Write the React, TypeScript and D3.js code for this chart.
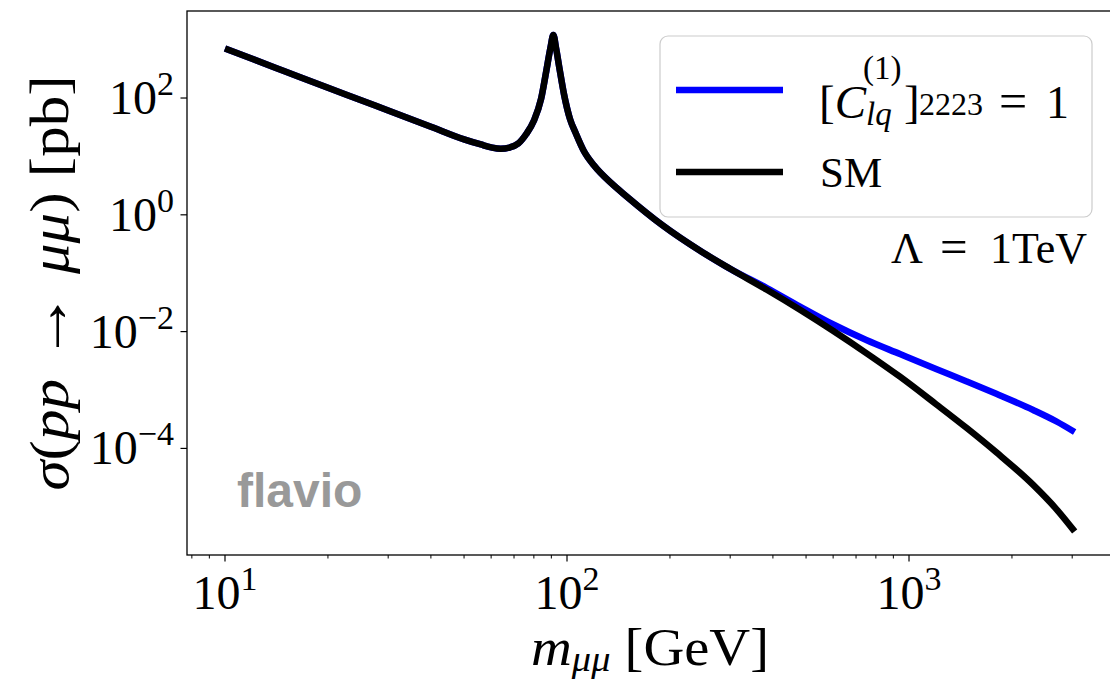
import React from "react";
import * as d3 from "d3";

// Dimuon invariant mass (GeV) at which the cross sections are sampled
const massGeV = [
  10, 12, 15, 20, 25, 30, 40, 50, 56, 60, 64, 68, 72, 76, 80, 84, 87, 89.5, 91.2,
  93, 95, 98, 102, 106, 112, 120, 135, 150, 190, 245, 300, 384, 480, 601, 750,
  941, 1200, 1475, 1800, 2307, 2700, 3050,
];

// Standard Model sigma(pp -> mu mu) in pb
const sigmaSM = [
  705, 469, 285, 150, 91.6, 61.1, 32.3, 19.6, 16.0, 14.3, 13.5, 14.2, 16.6, 24.2,
  40.8, 96.9, 292, 735, 1200, 690, 327, 116, 44, 25.2, 12.4, 6.98, 3.44, 2.02,
  0.664, 0.242, 0.119, 0.0521, 0.0237, 0.01023, 4.29e-3, 1.69e-3, 5.71e-4,
  2.23e-4, 8.57e-5, 2.37e-5, 9.06e-6, 3.79e-6,
];

// With [C_lq^(1)]_2223 = 1 at Lambda = 1 TeV
const sigmaNP = [
  705, 469, 285, 150, 91.6, 61.1, 32.3, 19.6, 16.0, 14.3, 13.5, 14.2, 16.6, 24.2,
  40.8, 96.9, 292, 735, 1200, 690, 327, 116, 44, 25.2, 12.4, 6.98, 3.44, 2.02,
  0.664, 0.242, 0.119, 0.0558, 0.0269, 0.01324, 7.18e-3, 4.13e-3, 2.29e-3,
  1.4e-3, 8.61e-4, 4.55e-4, 2.89e-4, 1.91e-4,
];

const xMajorTicks = [10, 100, 1000];
const xMinorTicks = [
  8, 9, 20, 30, 40, 50, 60, 70, 80, 90, 200, 300, 400, 500, 600, 700, 800, 900,
  2000, 3000,
];
const yMajorExponents = [-4, -2, 0, 2];

const W = 1110;
const H = 680;
const plot = { left: 187, top: 11, right: 1115, bottom: 555 };

const SERIF = "'Liberation Serif', 'Times New Roman', serif";

export default function App() {
  const x = d3
    .scaleLog()
    .domain([Math.pow(10, 0.8889), Math.pow(10, 3.6023)])
    .range([plot.left, plot.right]);
  const y = d3
    .scaleLog()
    .domain([Math.pow(10, -5.825), Math.pow(10, 3.49)])
    .range([plot.bottom, plot.top]);

  const line = (vals: number[]) =>
    d3
      .line<number>()
      .x((_, i) => x(massGeV[i]))
      .y((v) => y(v))
      .curve(d3.curveMonotoneX)(vals) || "";

  const supText = (e: number) => (e < 0 ? "\u2212" + Math.abs(e) : String(e));

  return (
    <svg
      width={W}
      height={H}
      style={{ position: "absolute", left: 0, top: 0, background: "#fff" }}
      fontFamily={SERIF}
    >
      <defs>
        <clipPath id="plotClip">
          <rect
            x={plot.left}
            y={plot.top}
            width={plot.right - plot.left}
            height={plot.bottom - plot.top}
          />
        </clipPath>
      </defs>

      {/* cross-section curves */}
      <g clipPath="url(#plotClip)" fill="none" strokeLinejoin="round">
        <path d={line(sigmaNP)} stroke="#0000ff" strokeWidth={6.5} />
        <path d={line(sigmaSM)} stroke="#000" strokeWidth={6.5} />
      </g>

      {/* frame */}
      <rect
        x={plot.left}
        y={plot.top}
        width={plot.right - plot.left}
        height={plot.bottom - plot.top}
        fill="none"
        stroke="#000"
        strokeWidth={1.3}
      />

      {/* x ticks */}
      {xMinorTicks.map((t) => (
        <line
          key={"xm" + t}
          x1={x(t)}
          x2={x(t)}
          y1={plot.bottom}
          y2={plot.bottom + 3.5}
          stroke="#000"
          strokeWidth={1}
        />
      ))}
      {xMajorTicks.map((t) => (
        <g key={"xM" + t}>
          <line
            x1={x(t)}
            x2={x(t)}
            y1={plot.bottom}
            y2={plot.bottom + 6.5}
            stroke="#000"
            strokeWidth={1.2}
          />
          <text x={x(t)} y={609} textAnchor="middle" fontSize={48}>
            10
            <tspan fontSize={34} dy={-19}>
              {Math.round(Math.log10(t))}
            </tspan>
          </text>
        </g>
      ))}

      {/* y ticks */}
      {yMajorExponents.map((e) => (
        <g key={"y" + e}>
          <line
            x1={plot.left - 6.5}
            x2={plot.left}
            y1={y(Math.pow(10, e))}
            y2={y(Math.pow(10, e))}
            stroke="#000"
            strokeWidth={1.2}
          />
          <text x={174} y={y(Math.pow(10, e)) + 16} textAnchor="end" fontSize={48}>
            10
            <tspan fontSize={34} dy={-19}>
              {supText(e)}
            </tspan>
          </text>
        </g>
      ))}

      {/* axis labels */}
      <text
        x={531}
        y={665}
        fontSize={53}
        textLength={238}
        lengthAdjust="spacingAndGlyphs"
      >
        <tspan fontStyle="italic">m</tspan>
        <tspan fontStyle="italic" fontSize={36} dy={6}>
          μμ
        </tspan>
        <tspan dy={-6}> [GeV]</tspan>
      </text>
      <text
        transform={`translate(68, ${(plot.top + plot.bottom) / 2}) rotate(-90)`}
        textAnchor="middle"
        fontSize={54}
        textLength={415}
        lengthAdjust="spacingAndGlyphs"
      >
        <tspan fontStyle="italic">σ</tspan>(<tspan fontStyle="italic">pp</tspan>
        <tspan fontSize={62}> → </tspan>
        <tspan fontStyle="italic">μμ</tspan>) [pb]
      </text>

      {/* legend */}
      <rect
        x={660}
        y={36}
        width={432}
        height={181}
        rx={8}
        fill="#fff"
        fillOpacity={0.8}
        stroke="#cccccc"
        strokeWidth={1.2}
      />
      <line x1={676} x2={783} y1={90} y2={90} stroke="#0000ff" strokeWidth={6.5} />
      <line x1={676} x2={783} y1={172} y2={172} stroke="#000" strokeWidth={6.5} />
      <text x={819} y={118} fontSize={47}>
        [<tspan fontStyle="italic">C</tspan>
      </text>
      <text x={863} y={79} fontSize={33}>
        (1)
      </text>
      <text x={866} y={125} fontSize={33} fontStyle="italic">
        lq
      </text>
      <text x={904} y={118} fontSize={47}>
        ]
      </text>
      <text x={919} y={115} fontSize={32}>
        2223
      </text>
      <text x={999} y={118} fontSize={50}>
        =
      </text>
      <text x={1046} y={118} fontSize={46}>
        1
      </text>
      <text x={820} y={187} fontSize={43}>
        SM
      </text>

      {/* annotations */}
      <text x={891} y={263} fontSize={44}>
        Λ
      </text>
      <text x={940} y={263} fontSize={49}>
        =
      </text>
      <text x={1087} y={263} textAnchor="end" fontSize={44}>
        1TeV
      </text>
      <text
        x={237}
        y={507}
        fontSize={48}
        fontWeight="bold"
        fontFamily="'Liberation Sans', Arial, sans-serif"
        fill="#999999"
      >
        flavio
      </text>
    </svg>
  );
}
